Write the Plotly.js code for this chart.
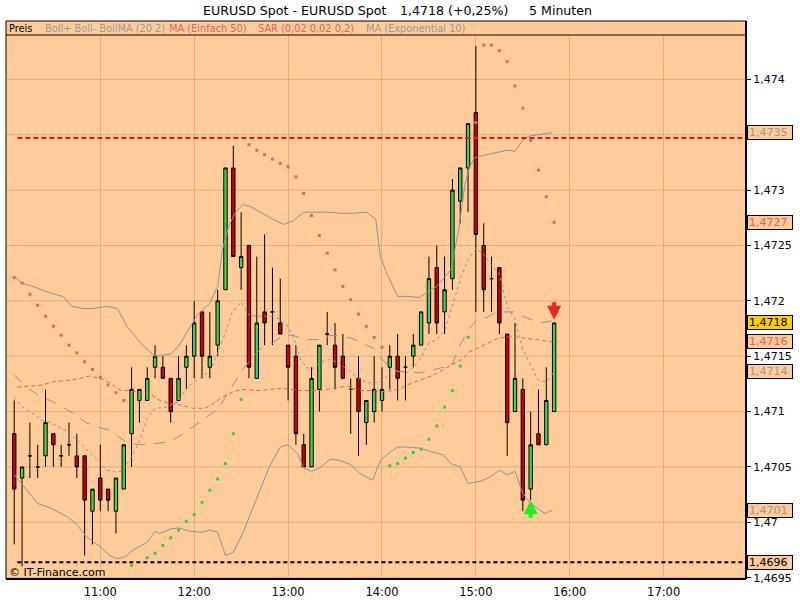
<!DOCTYPE html>
<html>
<head>
<meta charset="utf-8">
<script src="https://cdn.plot.ly/plotly-3.0.1.min.js"></script>
<style>body{margin:0;background:#fff}#chart{width:800px;height:600px}</style>
</head>
<body>
<div id="chart"></div>
<script>
// ---------- data ----------
const day = '2009-10-21';
const firstCandle = '10:05';
const candleMinutes = 5;

const opens = [1.4708,1.4704,1.4706,1.4705,1.4706,1.4708,1.4706,1.4707,1.4706,1.4706,
  1.4701,1.4704,1.4703,1.4701,1.4703,1.4708,1.4711,1.4711,1.4714,1.4714,
  1.4713,1.4711,1.4714,1.4715,1.4719,1.4714,1.4716,1.4721,1.4732,1.4723,
  1.4725,1.4713,1.4719,1.4719,1.4718,1.4716,1.4715,1.4707,1.4705,1.4712,
  1.4717,1.4716,1.4715,1.4712,1.4713,1.4709,1.4710,1.4711,1.4714,1.4715,
  1.4714,1.4715,1.4716,1.4718,1.4723,1.4719,1.4722,1.4729,1.4732,1.4737,
  1.4725,1.4722,1.4723,1.4717,1.4710,1.4712,1.4703,1.4708,1.4707,1.4710];
const highs = [1.4711,1.4705,1.4709,1.4707,1.4712,1.4708,1.4707,1.4709,1.4708,1.4706,
  1.4703,1.4707,1.4703,1.4704,1.4707,1.4714,1.4712,1.4714,1.4716,1.4715,
  1.4713,1.4715,1.4716,1.4720,1.4719,1.4719,1.4721,1.4732,1.4734,1.4728,
  1.4725,1.4724,1.4726,1.4723,1.4722,1.4716,1.4716,1.4708,1.4714,1.4716,
  1.4719,1.4718,1.4717,1.4713,1.4715,1.4711,1.4715,1.4714,1.4716,1.4717,
  1.4715,1.4717,1.4719,1.4724,1.4725,1.4724,1.4731,1.4732,1.4736,1.4743,
  1.4727,1.4724,1.4723,1.4717,1.4718,1.4713,1.4710,1.4712,1.4714,1.4718];
const lows = [1.4698,1.4696,1.4704,1.4704,1.4705,1.4705,1.4705,1.4706,1.4704,1.4697,
  1.4698,1.4701,1.4701,1.4699,1.4703,1.4705,1.4709,1.4711,1.4713,1.4713,
  1.4709,1.4711,1.4712,1.4713,1.4713,1.4713,1.4715,1.4721,1.4724,1.4721,
  1.4713,1.4713,1.4716,1.4716,1.4717,1.4711,1.4707,1.4705,1.4705,1.4710,
  1.4716,1.4712,1.4713,1.4708,1.4706,1.4707,1.4709,1.4710,1.4712,1.4711,
  1.4711,1.4714,1.4716,1.4717,1.4717,1.4717,1.4721,1.4727,1.4728,1.4719,
  1.4719,1.4719,1.4717,1.4706,1.4710,1.4701,1.4702,1.4707,1.4707,1.4710];
const closes = [1.4703,1.4705,1.4706,1.4705,1.4709,1.4707,1.4706,1.4707,1.4705,1.4702,
  1.4703,1.4702,1.4702,1.4704,1.4707,1.4712,1.4712,1.4713,1.4715,1.4713,
  1.4710,1.4713,1.4715,1.4718,1.4715,1.4715,1.4720,1.4732,1.4724,1.4724,
  1.4714,1.4718,1.4718,1.4719,1.4717,1.4714,1.4708,1.4705,1.4713,1.4716,
  1.4717,1.4714,1.4713,1.4712,1.4710,1.4711,1.4712,1.4712,1.4715,1.4713,
  1.4714,1.4716,1.4719,1.4722,1.4718,1.4721,1.4730,1.4732,1.4736,1.4726,
  1.4721,1.4722,1.4718,1.4709,1.4713,1.4702,1.4707,1.4707,1.4711,1.4718];

// Bollinger upper (Boll+)
const bollUpTimes = ['10:05','10:10','10:17','10:28','10:36','10:42','10:49','10:55','11:04','11:11','11:17','11:22','11:27','11:35','11:40','11:45','11:50','11:55','12:02','12:10','12:15','12:18','12:22','12:26','12:31','12:36','12:42','12:50','12:57','13:03','13:10','13:25','13:35','13:41','13:50','13:56','13:59','14:03','14:10','14:16','14:24','14:29','14:35','14:44','14:49','14:53','14:56','14:59','15:07','15:14','15:20','15:25','15:30','15:35','15:41','15:49'];
const bollUpVals = [1.47222,1.47216,1.47213,1.47207,1.47204,1.47195,1.47193,1.47193,1.47195,1.47193,1.47177,1.47168,1.4716,1.4715,1.47151,1.47152,1.47159,1.47171,1.47187,1.47198,1.47213,1.47246,1.47267,1.47279,1.47287,1.47285,1.4728,1.47274,1.47269,1.47272,1.4728,1.4728,1.47279,1.47279,1.4728,1.47274,1.4724,1.47225,1.47204,1.47204,1.47203,1.47208,1.47213,1.47228,1.47264,1.47305,1.47321,1.47329,1.47332,1.47334,1.47336,1.47335,1.47345,1.47349,1.4735,1.47352];
// Bollinger lower (Boll-)
const bollLoTimes = ['10:05','10:13','10:20','10:28','10:39','10:45','10:51','11:00','11:06','11:11','11:16','11:21','11:30','11:35','11:38','11:45','11:50','11:57','12:05','12:10','12:15','12:20','12:25','12:31','12:38','12:44','12:48','12:55','13:00','13:06','13:10','13:15','13:20','13:27','13:33','13:40','13:46','13:54','13:59','14:03','14:10','14:16','14:24','14:31','14:39','14:44','14:50','14:55','15:03','15:09','15:15','15:20','15:25','15:30','15:35','15:39','15:44','15:49'];
const bollLoVals = [1.47043,1.47029,1.47017,1.47013,1.47005,1.46998,1.46987,1.46978,1.4697,1.46967,1.46969,1.46975,1.46982,1.46992,1.4699,1.46994,1.46995,1.46992,1.46991,1.46993,1.46991,1.4697,1.46973,1.4699,1.47014,1.47035,1.4705,1.47068,1.4707,1.47062,1.47049,1.47046,1.47049,1.47057,1.47056,1.47052,1.47044,1.47038,1.47056,1.47061,1.47068,1.47068,1.47067,1.47064,1.47061,1.47053,1.4705,1.47035,1.47037,1.47041,1.47047,1.47043,1.47046,1.47026,1.47017,1.47013,1.47008,1.47011];
// BollMA (20)
const bollMaTimes = ['10:05','10:13','10:20','10:28','10:36','10:43','10:51','10:58','11:06','11:16','11:25','11:35','11:45','11:55','12:05','12:15','12:20','12:25','12:31','12:38','12:44','12:50','12:57','13:03','13:10','13:20','13:27','13:35','13:41','13:50','13:56','14:00','14:03','14:10','14:16','14:24','14:30','14:39','14:44','14:50','14:55','15:00','15:07','15:13','15:20','15:25','15:30','15:35','15:41','15:49'];
const bollMaVals = [1.47133,1.47122,1.47115,1.4711,1.47104,1.47098,1.4709,1.47086,1.47083,1.47073,1.4707,1.47071,1.47073,1.47082,1.47092,1.47102,1.47113,1.47124,1.47138,1.4715,1.47159,1.47162,1.47169,1.47169,1.47165,1.47165,1.47169,1.47168,1.47166,1.4716,1.47156,1.47147,1.47143,1.47136,1.47136,1.47135,1.47137,1.4714,1.4714,1.4716,1.47174,1.47182,1.47185,1.4719,1.4719,1.4719,1.47186,1.47183,1.4718,1.47182];
// MA (Einfach 50)
const ma50Times = ['10:07','10:17','10:23','10:30','10:39','10:47','10:53','11:00','11:06','11:13','11:19','11:32','11:38','11:45','11:51','11:59','12:07','12:12','12:18','12:25','12:31','12:42','12:55','13:08','13:20','13:29','13:38','13:46','13:54','14:03','14:12','14:16','14:20','14:33','14:43','14:51','14:56','15:05','15:14','15:22','15:33','15:41','15:49'];
const ma50Vals = [1.47122,1.47123,1.47124,1.47127,1.47128,1.4713,1.47132,1.4713,1.47126,1.47119,1.47119,1.47116,1.4711,1.47107,1.47106,1.47103,1.47103,1.47107,1.47113,1.47118,1.4712,1.47119,1.47121,1.47119,1.47119,1.47121,1.47123,1.47119,1.47119,1.47118,1.47121,1.47124,1.47126,1.47133,1.47141,1.47147,1.47154,1.4716,1.47166,1.47168,1.47166,1.47165,1.47163];
// MA (Exponential 10)
const ema10Times = ['10:05','10:10','10:17','10:23','10:28','10:39','10:47','10:53','11:00','11:04','11:11','11:15','11:20','11:25','11:30','11:35','11:42','11:50','11:55','12:01','12:07','12:11','12:15','12:20','12:24','12:30','12:35','12:40','12:50','12:55','13:00','13:04','13:08','13:12','13:15','13:21','13:27','13:32','13:38','13:45','13:51','13:56','14:00','14:06','14:11','14:16','14:20','14:25','14:30','14:35','14:40','14:45','14:50','14:55','15:00','15:05','15:10','15:15','15:20','15:25','15:30','15:35','15:40','15:45','15:50'];
const ema10Vals = [1.47113,1.47104,1.47098,1.47092,1.4709,1.47082,1.47072,1.47063,1.47054,1.47047,1.47045,1.47048,1.47059,1.47073,1.47094,1.47103,1.47104,1.47109,1.47121,1.47128,1.47133,1.47139,1.47153,1.47171,1.47189,1.47199,1.47187,1.47186,1.47186,1.47183,1.47177,1.47165,1.47147,1.4714,1.47138,1.47145,1.47147,1.47144,1.47138,1.4713,1.47126,1.47126,1.47128,1.47136,1.47137,1.47135,1.4714,1.47149,1.47162,1.47165,1.47173,1.47196,1.47219,1.47237,1.47247,1.47242,1.47232,1.47224,1.47195,1.47183,1.47156,1.47142,1.47128,1.47127,1.47136];
// SAR (0,02 0,02 0,2)
const sarShortTimes = ['10:05','10:10','10:15','10:20','10:25','10:30','10:35','10:40','10:45','10:50','10:55','11:00','11:05','11:10','11:15',
  '12:35','12:40','12:45','12:50','12:55','13:00','13:05','13:10','13:15','13:20','13:25','13:30','13:35','13:40','13:45','13:50','13:55','14:00',
  '15:00','15:05','15:10','15:15','15:20','15:25','15:30','15:35','15:40','15:45','15:50'];
const sarShortVals = [1.47221,1.47216,1.47206,1.47196,1.47186,1.47177,1.47169,1.4716,1.47153,1.47145,1.47138,1.47131,1.47124,1.47117,1.4711,
  1.47341,1.47336,1.47332,1.47328,1.47324,1.47321,1.47312,1.47297,1.47277,1.47259,1.47243,1.47228,1.47213,1.47201,1.47188,1.47177,1.47167,1.47158,
  1.47361,1.47431,1.47431,1.47426,1.47416,1.47394,1.47374,1.47345,1.47318,1.47294,1.47271];
const sarLongTimes = ['11:20','11:30','11:35','11:40','11:45','11:50','11:55','12:00','12:05','12:10','12:15','12:20','12:25','12:30',
  '14:05','14:10','14:15','14:20','14:25','14:30','14:35','14:40','14:45','14:50','14:55'];
const sarLongVals = [1.46961,1.46968,1.46972,1.46979,1.46986,1.46993,1.47001,1.47007,1.47018,1.47029,1.47039,1.47053,1.4708,1.47111,
  1.47051,1.47053,1.47058,1.47063,1.47066,1.47075,1.47087,1.47104,1.47119,1.47141,1.47167];
// horizontal level lines
const levelTexts = ['1,4735','1,4696'];
const levelVals = [1.47347, 1.46964];
const levelStart = '10:07';
// signals
const signalTimes = ['15:50','15:35'];
const signalVals = [1.47183, 1.47020];
// axis
const hourTicks = ['11:00','12:00','13:00','14:00','15:00','16:00','17:00'];
const priceTicks = [1.4695,1.47,1.4705,1.471,1.4715,1.472,1.4725,1.473,1.474];
const priceTickText = ['1,4695','1,47','1,4705','1,471','1,4715','1,472','1,4725','1,473','1,474'];
const gridPrices = [1.4695,1.47,1.4705,1.471,1.4715,1.472,1.4725,1.473,1.4735,1.474];
const xRange = ['09:59:45','17:52:36'];
const yRange = [1.469488, 1.474527];
const titleParts = ['EURUSD Spot - EURUSD Spot','1,4718 (+0,25%)','5 Minuten'];
const legendParts = ['Preis','Boll+ Boll- BollMA (20 2)','MA (Einfach 50)','SAR (0,02 0,02 0,2)','MA (Exponential 10)'];

// ---------- helpers / styles ----------
const T = hm => day + ' ' + hm;
function addMinutes(hm, mins){
  const p = hm.split(':').map(Number); const tot = p[0]*60 + p[1] + mins;
  return String(Math.floor(tot/60)).padStart(2,'0') + ':' + String(tot%60).padStart(2,'0');
}
const candleTimes = opens.map((_, i) => addMinutes(firstCandle, i*candleMinutes));
const FONT = 'DejaVu Sans';
const bg = '#ffcc99';
const gridColor = '#dcb081';
const gray = '#8896a8';
const maRed = '#e06262';
const legendGray = '#9a9a9a';

const traces = [
  {type:'candlestick', x:candleTimes.map(T), open:opens, high:highs, low:lows, close:closes,
   increasing:{line:{color:'#000', width:1}, fillcolor:'#4ccc4c'},
   decreasing:{line:{color:'#000', width:1}, fillcolor:'#cc0000'},
   whiskerwidth:0, hoverinfo:'skip'},
  {type:'scatter', mode:'lines', x:bollUpTimes.map(T), y:bollUpVals, line:{color:gray, width:1}, hoverinfo:'skip'},
  {type:'scatter', mode:'lines', x:bollLoTimes.map(T), y:bollLoVals, line:{color:gray, width:1}, hoverinfo:'skip'},
  {type:'scatter', mode:'lines', x:bollMaTimes.map(T), y:bollMaVals, line:{color:gray, width:1, dash:'11px,9px'}, hoverinfo:'skip'},
  {type:'scatter', mode:'lines', x:ema10Times.map(T), y:ema10Vals, line:{color:gray, width:1, dash:'3px,3px'}, hoverinfo:'skip'},
  {type:'scatter', mode:'lines', x:ma50Times.map(T), y:ma50Vals, line:{color:maRed, width:1, dash:'4px,3px'}, hoverinfo:'skip'},
  {type:'scatter', mode:'lines', x:[T(levelStart), T(xRange[1])], y:[levelVals[0], levelVals[0]], line:{color:'#ee1111', width:2, dash:'5px,3px'}, hoverinfo:'skip'},
  {type:'scatter', mode:'lines', x:[T(levelStart), T(xRange[1])], y:[levelVals[1], levelVals[1]], line:{color:'#000000', width:2, dash:'4px,3px'}, hoverinfo:'skip'},
  {type:'scatter', mode:'markers', x:sarShortTimes.map(T), y:sarShortVals, marker:{symbol:'square', size:3, color:'#e06a6a'}, hoverinfo:'skip'},
  {type:'scatter', mode:'markers', x:sarLongTimes.map(T), y:sarLongVals, marker:{symbol:'square', size:3, color:'#3cd43c'}, hoverinfo:'skip'}
];

// right-side value boxes (last values of series)
const boxes = [
  {v: bollUpVals[bollUpVals.length-1], t: levelTexts[0], c: legendGray, bg: bg},
  {v: sarShortVals[sarShortVals.length-1], t: '1,4727', c: maRed, bg: bg},
  {v: closes[closes.length-1], t: '1,4718', c: '#000', bg: '#ffcc00'},
  {v: ma50Vals[ma50Vals.length-1], t: '1,4716', c: maRed, bg: bg},
  {v: ema10Vals[ema10Vals.length-1], t: '1,4714', c: legendGray, bg: bg},
  {v: bollLoVals[bollLoVals.length-1], t: '1,4701', c: legendGray, bg: bg},
  {v: levelVals[1], t: levelTexts[1], c: '#000', bg: bg}
];

const pxX = px => (px - 6) / 740;
const pxY = py => (579 - py) / 558;
const annotations = [];
const titleX = [201, 398, 527];
titleParts.forEach((t, i) => annotations.push({xref:'paper', yref:'paper', x:pxX(titleX[i]), y:pxY(10), xanchor:'left', yanchor:'middle', showarrow:false, text:t, font:{family:FONT, size:12.6, color:'#000'}}));
const legendX = [7, 43, 167, 256, 364];
const legendColors = ['#000', legendGray, maRed, maRed, legendGray];
legendParts.forEach((t, i) => annotations.push({xref:'paper', yref:'paper', x:pxX(legendX[i]), y:pxY(28.5), xanchor:'left', yanchor:'middle', showarrow:false, text:t, font:{family:FONT, size:9.8, color:legendColors[i]}}));
annotations.push({xref:'paper', yref:'paper', x:pxX(7), y:pxY(572), xanchor:'left', yanchor:'middle', showarrow:false, text:'© IT-Finance.com', font:{family:FONT, size:11, color:'#000'}});
boxes.forEach(b => annotations.push({xref:'paper', yref:'y', x:1, xshift:1, y:b.v, xanchor:'left', yanchor:'middle', showarrow:false, text:b.t, align:'left', width:42, height:11, bgcolor:b.bg, bordercolor:'#000', borderwidth:1, borderpad:1, font:{family:FONT, size:11, color:b.c}}));
// signal arrows
annotations.push({x:T(signalTimes[0]), y:signalVals[0], xref:'x', yref:'y', text:'', showarrow:true, arrowhead:2, arrowsize:0.7, arrowwidth:4, arrowcolor:'#ee2222', ax:0, ay:-19});
annotations.push({x:T(signalTimes[1]), y:signalVals[1], xref:'x', yref:'y', text:'', showarrow:true, arrowhead:2, arrowsize:0.7, arrowwidth:4, arrowcolor:'#22ee22', ax:0, ay:19});

const stripBottom = pxY(35);
const shapes = [
  {type:'rect', xref:'paper', yref:'paper', x0:0, x1:1, y0:stripBottom, y1:1, fillcolor:bg, line:{width:0}, layer:'above'},
  {type:'line', xref:'paper', yref:'paper', x0:0, x1:1, y0:stripBottom, y1:stripBottom, line:{color:'#000', width:1}, layer:'above'},
  {type:'rect', xref:'paper', yref:'paper', x0:0, x1:1, y0:0, y1:1, line:{color:'#000', width:1}, layer:'above'},
  {type:'line', xref:'paper', yref:'paper', x0:0, x1:1, y0:0, y1:0, line:{color:'#000', width:2}, layer:'above'},
  {type:'line', xref:'paper', yref:'paper', x0:1, x1:1, y0:0, y1:1, line:{color:'#000', width:2}, layer:'above'}
];
// horizontal grid at every price step (including the one hidden behind the 1,4735 box)
gridPrices.forEach(p => shapes.push({type:'line', xref:'paper', yref:'y', x0:0, x1:1, y0:p, y1:p, line:{color:gridColor, width:1}, layer:'below'}));

const layout = {
  width:800, height:600,
  margin:{l:6, r:54, t:21, b:21, pad:0},
  paper_bgcolor:'#ffffff', plot_bgcolor:bg,
  showlegend:false,
  boxgap:0.38,
  xaxis:{type:'date', range:xRange.map(T), tickvals:hourTicks.map(T), ticktext:hourTicks,
    showgrid:true, gridcolor:gridColor, gridwidth:1, zeroline:false, showline:false,
    ticks:'outside', ticklen:2, tickcolor:'rgba(0,0,0,0)', ticklabeloverflow:'allow',
    tickfont:{family:FONT, size:11.5, color:'#000'}, rangeslider:{visible:false}, fixedrange:true},
  yaxis:{side:'right', range:yRange, tickvals:priceTicks, ticktext:priceTickText,
    showgrid:false, zeroline:false, showline:false,
    ticks:'outside', ticklen:4, tickcolor:'#000', tickfont:{family:FONT, size:11, color:'#000'}, fixedrange:true},
  shapes:shapes, annotations:annotations
};

Plotly.newPlot('chart', traces, layout, {displayModeBar:false, staticPlot:true});
</script>
</body>
</html>
